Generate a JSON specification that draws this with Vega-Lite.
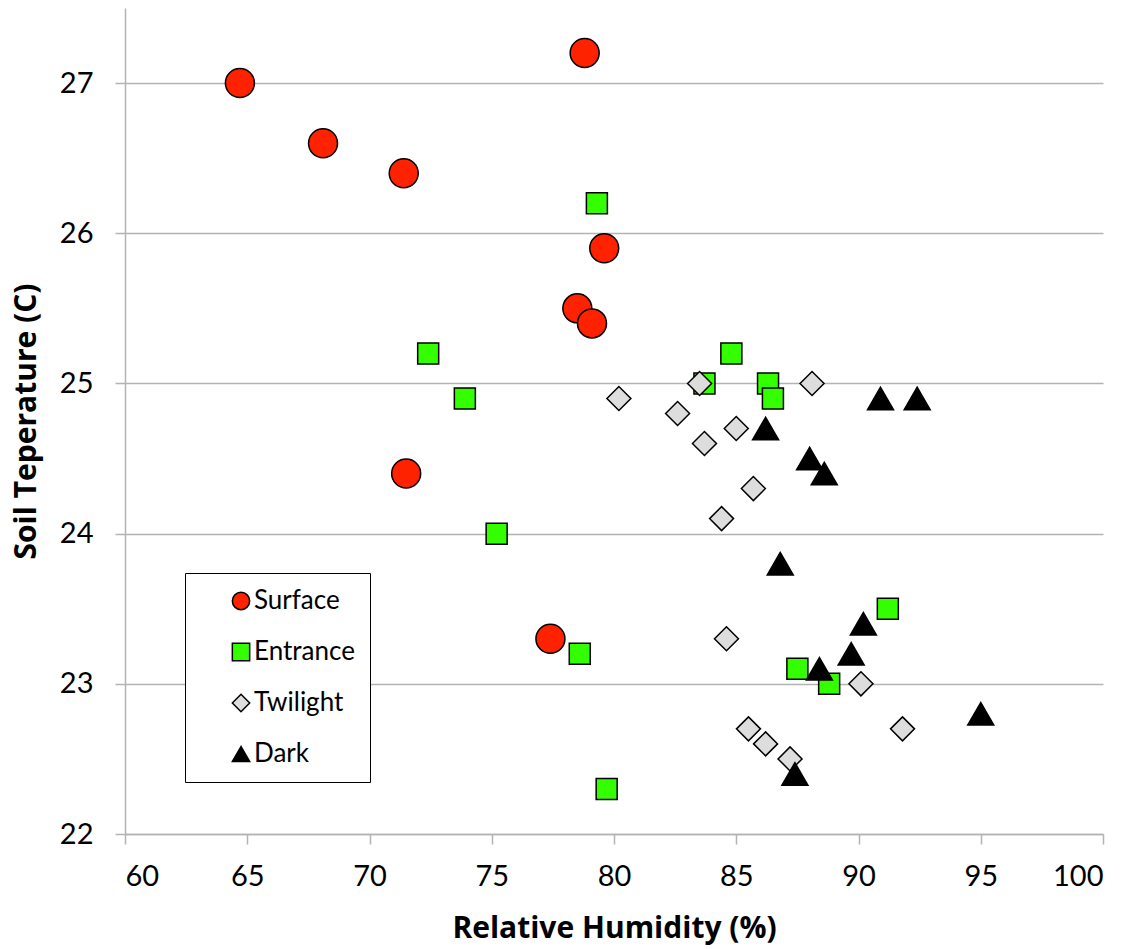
{
  "$schema": "https://vega.github.io/schema/vega-lite/v6.json",
  "autosize": {"type": "none"},
  "padding": {"left": 125, "top": 8, "right": 33, "bottom": 115},
  "width": 978,
  "height": 826,
  "background": "white",
  "config": {
    "font": "Lato",
    "view": {"stroke": null},
    "axis": {"labelFont": "Lato", "titleFont": "Open Sans", "labelColor": "black", "titleColor": "black"}
  },
  "data": {
    "values": [
      {"zone": "Surface", "rh": 64.7, "temp": 27.0},
      {"zone": "Surface", "rh": 78.8, "temp": 27.2},
      {"zone": "Surface", "rh": 68.1, "temp": 26.6},
      {"zone": "Surface", "rh": 71.4, "temp": 26.4},
      {"zone": "Surface", "rh": 79.6, "temp": 25.9},
      {"zone": "Surface", "rh": 78.5, "temp": 25.5},
      {"zone": "Surface", "rh": 79.1, "temp": 25.4},
      {"zone": "Surface", "rh": 71.5, "temp": 24.4},
      {"zone": "Surface", "rh": 77.4, "temp": 23.3},
      {"zone": "Entrance", "rh": 79.3, "temp": 26.2},
      {"zone": "Entrance", "rh": 72.4, "temp": 25.2},
      {"zone": "Entrance", "rh": 73.9, "temp": 24.9},
      {"zone": "Entrance", "rh": 75.2, "temp": 24.0},
      {"zone": "Entrance", "rh": 84.8, "temp": 25.2},
      {"zone": "Entrance", "rh": 83.7, "temp": 25.0},
      {"zone": "Entrance", "rh": 86.3, "temp": 25.0},
      {"zone": "Entrance", "rh": 86.5, "temp": 24.9},
      {"zone": "Entrance", "rh": 91.2, "temp": 23.5},
      {"zone": "Entrance", "rh": 78.6, "temp": 23.2},
      {"zone": "Entrance", "rh": 87.5, "temp": 23.1},
      {"zone": "Entrance", "rh": 88.8, "temp": 23.0},
      {"zone": "Entrance", "rh": 79.7, "temp": 22.3},
      {"zone": "Twilight", "rh": 80.2, "temp": 24.9},
      {"zone": "Twilight", "rh": 83.5, "temp": 25.0},
      {"zone": "Twilight", "rh": 88.1, "temp": 25.0},
      {"zone": "Twilight", "rh": 82.6, "temp": 24.8},
      {"zone": "Twilight", "rh": 85.0, "temp": 24.7},
      {"zone": "Twilight", "rh": 83.7, "temp": 24.6},
      {"zone": "Twilight", "rh": 85.7, "temp": 24.3},
      {"zone": "Twilight", "rh": 84.4, "temp": 24.1},
      {"zone": "Twilight", "rh": 84.6, "temp": 23.3},
      {"zone": "Twilight", "rh": 90.1, "temp": 23.0},
      {"zone": "Twilight", "rh": 85.5, "temp": 22.7},
      {"zone": "Twilight", "rh": 86.2, "temp": 22.6},
      {"zone": "Twilight", "rh": 87.2, "temp": 22.5},
      {"zone": "Twilight", "rh": 91.8, "temp": 22.7},
      {"zone": "Dark", "rh": 90.9, "temp": 24.9},
      {"zone": "Dark", "rh": 92.4, "temp": 24.9},
      {"zone": "Dark", "rh": 86.2, "temp": 24.7},
      {"zone": "Dark", "rh": 88.0, "temp": 24.5},
      {"zone": "Dark", "rh": 88.6, "temp": 24.4},
      {"zone": "Dark", "rh": 86.8, "temp": 23.8},
      {"zone": "Dark", "rh": 90.2, "temp": 23.4},
      {"zone": "Dark", "rh": 89.7, "temp": 23.2},
      {"zone": "Dark", "rh": 88.4, "temp": 23.1},
      {"zone": "Dark", "rh": 95.0, "temp": 22.8},
      {"zone": "Dark", "rh": 87.4, "temp": 22.4}
    ]
  },
  "encoding": {
    "x": {
      "field": "rh", "type": "quantitative",
      "scale": {"domain": [60, 100], "nice": false, "zero": false},
      "axis": {
        "title": "Relative Humidity (%)",
        "values": [60, 65, 70, 75, 80, 85, 90, 95, 100],
        "grid": false,
        "domain": true, "domainColor": "#b3b3b3", "domainWidth": 1.5,
        "ticks": true, "tickColor": "#b3b3b3", "tickWidth": 1.5, "tickSize": 10,
        "labelFontSize": 29, "labelPadding": 18,
        "titleFontSize": 30, "titleFontWeight": "bold", "titlePadding": 22
      }
    },
    "y": {
      "field": "temp", "type": "quantitative",
      "scale": {"domain": [22, 27.5], "nice": false, "zero": false},
      "axis": {
        "title": "Soil Teperature (C)",
        "values": [22, 23, 24, 25, 26, 27],
        "grid": true, "gridColor": "#b3b3b3", "gridWidth": 1.5,
        "domain": true, "domainColor": "#b3b3b3", "domainWidth": 1.5,
        "ticks": true, "tickColor": "#b3b3b3", "tickWidth": 1.5, "tickSize": 10,
        "labelFontSize": 29, "labelPadding": 22,
        "titleFontSize": 30, "titleFontWeight": "bold", "titlePadding": 18
      }
    },
    "color": {
      "field": "zone", "type": "nominal",
      "scale": {"domain": ["Surface", "Entrance", "Twilight", "Dark"], "range": ["#ff2200", "#33ff00", "#dddddd", "#000000"]},
      "legend": {
        "title": null,
        "orient": "none", "legendX": 60, "legendY": 565,
        "direction": "vertical",
        "strokeColor": "black", "fillColor": "white",
        "padding": 15,
        "rowPadding": 25,
        "symbolSize": 300,
        "symbolStrokeColor": "black", "symbolStrokeWidth": 1.5,
        "symbolOffset": 28,
        "labelOffset": 0,
        "labelFont": "Lato", "labelFontSize": 26, "labelColor": "black",
        "labelLimit": 300,
        "encode": {
          "legend": {"update": {"strokeWidth": {"value": 2}}}
        }
      }
    },
    "shape": {
      "field": "zone", "type": "nominal",
      "scale": {"domain": ["Surface", "Entrance", "Twilight", "Dark"], "range": ["circle", "square", "diamond", "triangle-up"]}
    }
  },
  "layer": [
    {
      "transform": [{"filter": "datum.zone === 'Surface'"}],
      "mark": {"type": "point", "filled": true, "opacity": 1, "stroke": "black", "strokeWidth": 1.5, "size": 841}
    },
    {
      "transform": [{"filter": "datum.zone === 'Entrance'"}],
      "mark": {"type": "point", "filled": true, "opacity": 1, "stroke": "black", "strokeWidth": 1.5, "size": 441}
    },
    {
      "transform": [{"filter": "datum.zone === 'Twilight'"}],
      "mark": {"type": "point", "filled": true, "opacity": 1, "stroke": "black", "strokeWidth": 1.5, "size": 576}
    },
    {
      "transform": [{"filter": "datum.zone === 'Dark'"}],
      "mark": {"type": "point", "filled": true, "opacity": 1, "stroke": "black", "strokeWidth": 1.5, "size": 676}
    }
  ]
}
